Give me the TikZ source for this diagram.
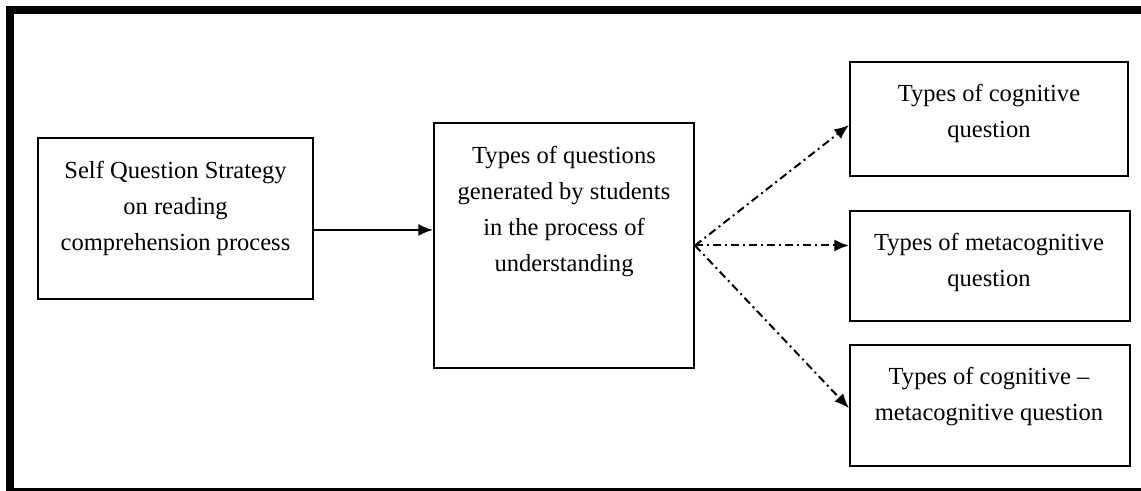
\documentclass[tikz,border=0pt]{standalone}
\usepackage{fontspec}
\setmainfont{Liberation Serif}
\usetikzlibrary{arrows.meta}

\begin{document}
\begin{tikzpicture}[x=0.75pt,y=0.75pt,yscale=-1,xscale=1,
  box/.style={draw,line width=1.5pt,inner sep=0pt},
  txt/.style={align=center,inner sep=0.75pt,font=\fontsize{18.4}{27}\selectfont},
  link/.style={line width=1.5pt,-{Latex[length=11pt,width=9pt]}},
  dlink/.style={line width=1.5pt,-{Latex[length=11pt,width=9pt]},dash pattern=on 6pt off 3pt on 1.5pt off 3pt}]
\useasboundingbox (0,0) rectangle (1141,491);
\clip (0,0) rectangle (1141,491);
% outer frame
\draw[line width=6pt] (10,10) rectangle (1148,492);

% boxes
\node[box,minimum width=206.25pt,minimum height=120.75pt] (b1) at (175.5,218.5) {};
\node[box,minimum width=195pt,minimum height=183.75pt] (b2) at (564,245.5) {};
\node[box,minimum width=208.5pt,minimum height=85.5pt] (b3) at (989,119) {};
\node[box,minimum width=210pt,minimum height=82.5pt] (b4) at (990,266) {};
\node[box,minimum width=210pt,minimum height=90.75pt] (b5) at (990,405.5) {};

% texts
\node[txt] (t1) at (175.5,208) {Self Question Strategy\\ on reading\\ comprehension process};
\node[txt] (t2) at (564,212) {Types of questions\\ generated by students\\ in the process of\\ understanding};
\node[txt] (t3) at (989,113) {Types of cognitive\\ question};
\node[txt] (t4) at (989,262) {Types of metacognitive\\ question};
\node[txt] (t5) at (989,397) {Types of cognitive --\\ metacognitive question};

% arrows
\draw[link] ([yshift=8.6pt]b1.east) -- ([yshift=8.6pt]b1.east -| b2.west);
\draw[dlink] (b2.east) -- ([yshift=4.5pt]b3.west);
\draw[dlink] (b2.east) -- (b2.east -| b4.west);
\draw[dlink] (b2.east) -- ([yshift=2pt]b5.west);
\end{tikzpicture}
\end{document}
